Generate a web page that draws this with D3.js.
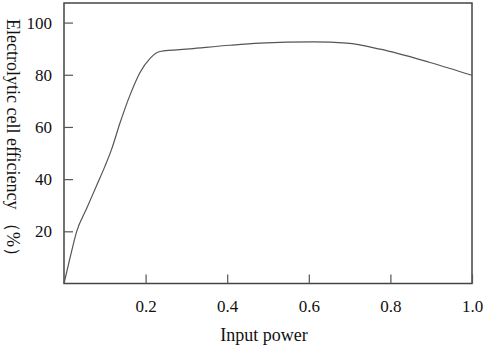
<!DOCTYPE html>
<html>
<head>
<meta charset="utf-8">
<script src="https://cdn.jsdelivr.net/npm/d3@7"></script>
<style>
  body { margin: 0; background: #fff; }
  svg { display: block; }
</style>
</head>
<body>
<div id="chart"></div>
<script>
const inputPower = [0, 0.015, 0.031, 0.056, 0.080, 0.100, 0.117, 0.137, 0.162, 0.186, 0.211, 0.235, 0.309, 0.407, 0.48, 0.611, 0.693, 0.775, 0.897, 1.0];
const efficiency = [0, 10, 19.9, 28.9, 37.6, 44.8, 51.6, 61.4, 72.3, 80.8, 86.3, 88.9, 89.9, 91.3, 92.1, 92.6, 92.1, 89.8, 84.7, 79.8];
const xTicks = [0.2, 0.4, 0.6, 0.8, 1.0];
const yTicks = [20, 40, 60, 80, 100];

const width = 484, height = 347;
const plotLeft = 64, plotRight = 472, plotTop = 3, plotBottom = 283.5;
const font = '"Liberation Serif", "Times New Roman", serif';

const svg = d3.select('#chart')
  .append('svg')
    .attr('width', width)
    .attr('height', height)
    .style('font-family', font);

const x = d3.scaleLinear()
  .domain([0, 1])
  .range([plotLeft, plotRight]);

const y = d3.scaleLinear()
  .domain([0, 107.5])
  .range([plotBottom, plotTop]);

// frame
svg.append('rect')
  .attr('x', plotLeft)
  .attr('y', plotTop)
  .attr('width', plotRight - plotLeft)
  .attr('height', plotBottom - plotTop)
  .attr('fill', 'none')
  .attr('stroke', '#444')
  .attr('stroke-width', 1.5);

const xAxis = svg.append('g')
  .attr('transform', `translate(0, ${plotBottom})`)
  .call(d3.axisBottom(x)
    .tickValues(xTicks)
    .tickFormat(d3.format('.1f'))
    .tickSizeInner(-9)
    .tickSizeOuter(0)
    .tickPadding(16));

const yAxis = svg.append('g')
  .attr('transform', `translate(${plotLeft}, 0)`)
  .call(d3.axisLeft(y)
    .tickValues(yTicks)
    .tickSizeInner(-9)
    .tickSizeOuter(0)
    .tickPadding(12));

[xAxis, yAxis].forEach(g => {
  g.attr('font-family', font).attr('font-size', 17);
  g.select('.domain').remove();
  g.selectAll('.tick line').attr('stroke', '#555').attr('stroke-width', 1.2);
  g.selectAll('.tick text')
    .attr('fill', '#111')
    .style('font-family', font)
    .style('font-size', '17px');
});

const line = d3.line()
  .x((d, i) => x(inputPower[i]))
  .y(d => y(d))
  .curve(d3.curveMonotoneX);

svg.append('path')
  .datum(efficiency)
  .attr('d', line)
  .attr('fill', 'none')
  .attr('stroke', '#555')
  .attr('stroke-width', 1.2);

svg.append('text')
  .attr('x', 264)
  .attr('y', 341)
  .attr('text-anchor', 'middle')
  .style('font-family', font)
  .style('font-size', '18px')
  .attr('fill', '#111')
  .text('Input power');

svg.append('text')
  .attr('transform', 'translate(6.5, 19) rotate(90)')
  .style('font-family', font)
  .style('font-size', '18px')
  .attr('fill', '#111')
  .text('Electrolytic cell efficiency （%）');
</script>
</body>
</html>
